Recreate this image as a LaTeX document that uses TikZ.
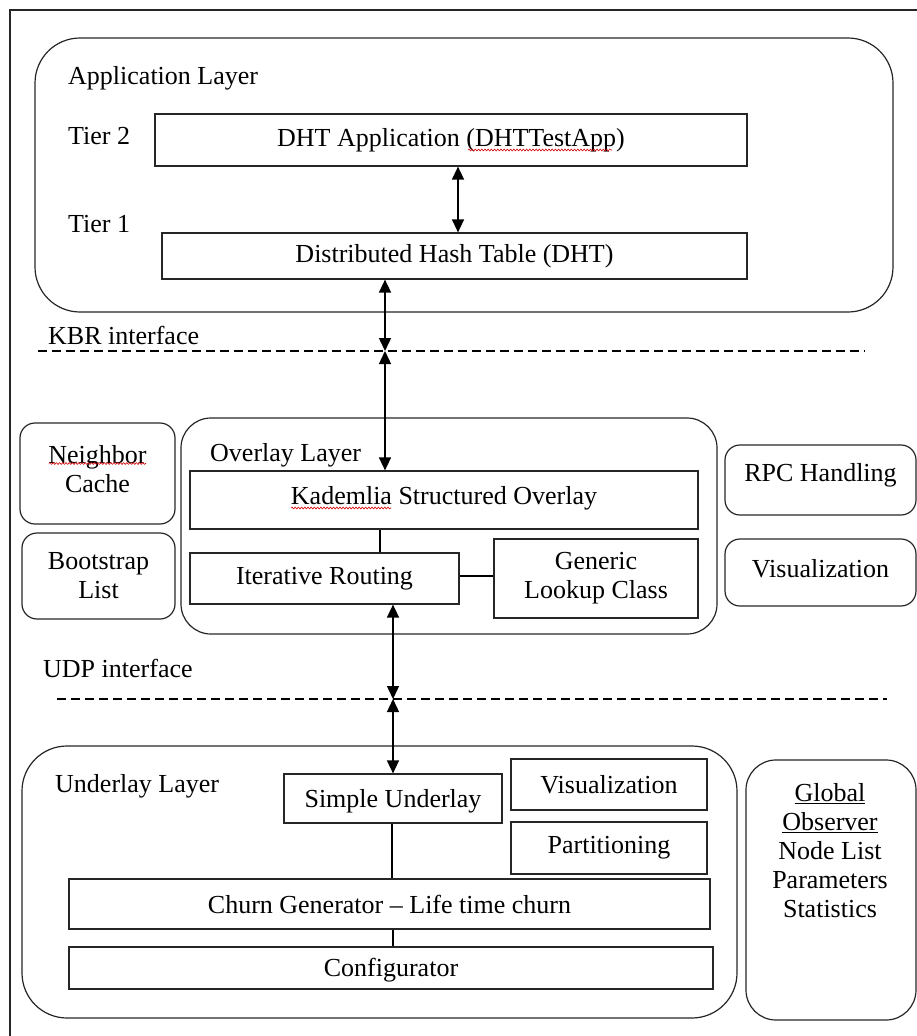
\documentclass[tikz,border=0pt]{standalone}
\usepackage{fontspec}
\setmainfont{Liberation Serif}
\usepackage{tikz}
\usetikzlibrary{arrows.meta,decorations.pathmorphing}

\begin{document}
\begin{tikzpicture}[x=1pt, y=-1pt, font=\fontsize{26}{29}\selectfont,
    sqbox/.style={draw=black!85, line width=1.2pt, inner sep=0pt, align=center},
    rbox/.style={sqbox, rounded corners=#1},
    lbl/.style={anchor=west, inner sep=0pt, text height=0.69em, text depth=0.22em},
    dblarrow/.style={line width=1.4pt, {Triangle[length=13pt,width=12pt]}-{Triangle[length=13pt,width=12pt]}},
    dashline/.style={line width=1.2pt, dash pattern=on 9pt off 5pt},
    spell/.style={red!85!black, line width=0.6pt, decorate, decoration={snake, amplitude=0.9pt, segment length=3.2pt}}]
      \useasboundingbox (0,0) rectangle (917,1036);
      % Frame
      \draw[line width=1.2pt, black!85] (10,1036) -- (10,10) -- (917,10);
      % Application layer
      \node[rbox=45pt, minimum width=858pt, minimum height=274pt] (applayer) at (464,175) {};
      \node[lbl] (apptxt) at (68,82.5) {Application Layer};
      \node[lbl] (tier2) at (68,142) {Tier 2};
      \node[lbl] (tier1) at (68,230) {Tier 1};
      \node[sqbox, minimum width=592pt, minimum height=52pt] (dhtapp) at (451,140) {DHT Application (DHTTestApp)};
      \node[sqbox, minimum width=585pt, minimum height=46pt] (dht) at (454.5,256) {Distributed Hash Table (DHT)};
      \draw[dblarrow] ([xshift=7pt]dhtapp.south) -- ([xshift=7pt]dhtapp.south |- dht.north);
      \draw[spell] (468,150) -- (612,150);
      % KBR interface
      \node[lbl] (kbrtxt) at (48,342.5) {KBR interface};
      \coordinate (kbr) at (385,351);
      \draw[dashline] (38,351) -- (865,351);
      % Overlay layer
      \node[rbox=30pt, minimum width=536pt, minimum height=216pt] (ovlayer) at (449,526) {};
      \node[lbl] (ovtxt) at (210,459.5) {Overlay Layer};
      \node[sqbox, minimum width=508pt, minimum height=58pt] (kad) at (444,500) {};
      \node (kadtxt) at (444,498.5) {Kademlia Structured Overlay};
      \node[sqbox, minimum width=269pt, minimum height=51pt] (iter) at (324.5,578.5) {Iterative Routing};
      \node[sqbox, minimum width=204pt, minimum height=79pt] (generic) at (596,578.5) {Generic\\Lookup Class};
      \draw[line width=1.2pt] ([xshift=-64pt]kad.south) -- ([xshift=-64pt]kad.south |- iter.north);
      \draw[line width=1.2pt] ([yshift=2.5pt]iter.east) -- ([yshift=2.5pt]iter.east -| generic.west);
      \draw[spell] (291,508) -- (391,508);
      \draw[dblarrow] (dht.south -| kbr) -- (kbr);
      \draw[dblarrow] (kbr) -- (kad.north -| kbr);
      % Side boxes of the overlay
      \node[rbox=15pt, minimum width=155pt, minimum height=101pt] (nbcache) at (97.5,473.5) {};
      \node[align=center, inner sep=0pt] (nbtxt) at (97.5,469.5) {Neighbor\\Cache};
      \draw[spell] (49,463.5) -- (146,463.5);
      \node[rbox=15pt, minimum width=153pt, minimum height=86pt] (bootlist) at (98.5,576) {Bootstrap\\List};
      \node[rbox=15pt, minimum width=191pt, minimum height=70pt] (rpc) at (820.5,480) {};
      \node (rpctxt) at (820.5,475.5) {RPC Handling};
      \node[rbox=15pt, minimum width=191pt, minimum height=67pt] (visov) at (820.5,572.5) {};
      \node (visovtxt) at (820.5,568.5) {Visualization};
      % UDP interface
      \node[lbl] (udptxt) at (43,675.5) {UDP interface};
      \coordinate (udp) at (393,699);
      \draw[dashline] (57,699) -- (887,699);
      % Underlay layer
      \node[rbox=45pt, minimum width=715pt, minimum height=272pt] (unlayer) at (379.5,882) {};
      \node[lbl] (untxt) at (55,790.5) {Underlay Layer};
      \node[sqbox, minimum width=218pt, minimum height=49pt] (simple) at (393,798.5) {};
      \node (simpletxt) at (393,801.5) {Simple Underlay};
      \node[sqbox, minimum width=196pt, minimum height=51pt] (visun) at (609,784.5) {Visualization};
      \node[sqbox, minimum width=196pt, minimum height=52pt] (part) at (609,848) {Partitioning};
      \node[sqbox, minimum width=641pt, minimum height=50pt] (churn) at (389.5,904) {Churn Generator -- Life time churn};
      \node[sqbox, minimum width=644pt, minimum height=42pt] (config) at (391,968) {};
      \node (configtxt) at (391,970) {Configurator};
      \draw[line width=1.2pt] ([xshift=-1pt]simple.south) -- ([xshift=-1pt]simple.south |- churn.north);
      \draw[line width=1.2pt] (churn.south -| simple) -- (config.north -| simple);
      \draw[dblarrow] (iter.south -| udp) -- (udp);
      \draw[dblarrow] (udp) -- (simple.north);
      % Global observer
      \node[rbox=30pt, minimum width=170pt, minimum height=260pt] (globobs) at (831,890) {};
      \node[align=center, inner sep=0pt] (globtxt) at (830,851) {\underline{Global}\\\underline{Observer}\\Node List\\Parameters\\Statistics};
    \end{tikzpicture}
\end{document}
